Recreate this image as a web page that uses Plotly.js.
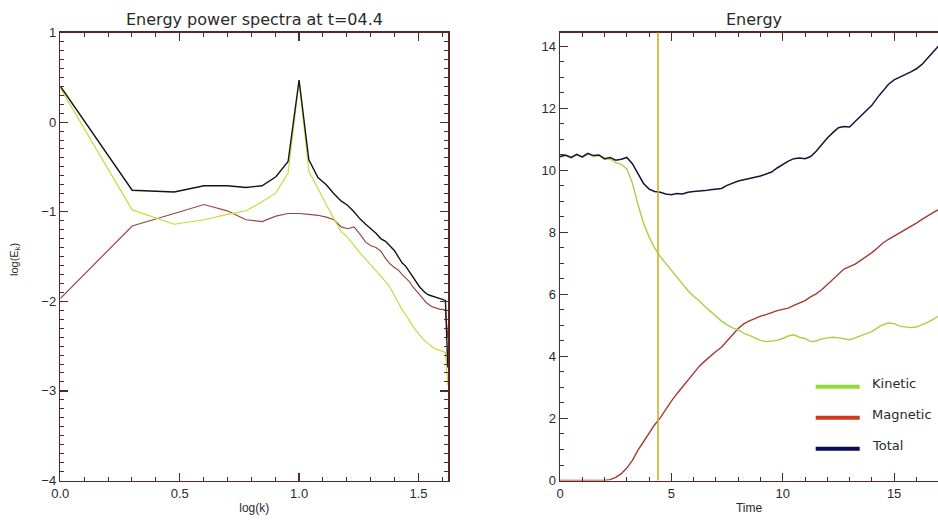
<!DOCTYPE html>
<html>
<head>
<meta charset="utf-8">
<script src="https://cdn.plot.ly/plotly-3.0.1.min.js"></script>
<style>html,body{margin:0;padding:0;background:#fff;}#chart{width:938px;height:522px;}</style>
</head>
<body>
<div id="chart"></div>
<script>
// ---------- Left panel: energy power spectra (log k vs log E_k) ----------
const logK = [0, 0.301, 0.477, 0.602, 0.699, 0.778, 0.845, 0.903, 0.954, 1.0,
  1.041, 1.079, 1.114, 1.146, 1.176, 1.204, 1.230, 1.255, 1.279, 1.301,
  1.322, 1.342, 1.362, 1.380, 1.398, 1.415, 1.431, 1.447, 1.462, 1.477,
  1.491, 1.505, 1.519, 1.531, 1.544, 1.556, 1.568, 1.580, 1.591, 1.602,
  1.613, 1.623];
const specTotal = [0.40, -0.76, -0.78, -0.71, -0.71, -0.73, -0.71, -0.61, -0.44, 0.47,
  -0.42, -0.62, -0.70, -0.80, -0.88, -0.93, -1.00, -1.08, -1.14, -1.19,
  -1.24, -1.30, -1.33, -1.38, -1.43, -1.50, -1.57, -1.61, -1.67, -1.74,
  -1.79, -1.84, -1.88, -1.91, -1.93, -1.94, -1.95, -1.96, -1.97, -1.98,
  -1.99, -2.74];
const specKinetic = [0.38, -0.98, -1.14, -1.09, -1.03, -0.99, -0.89, -0.79, -0.57, 0.45,
  -0.55, -0.75, -0.92, -1.08, -1.22, -1.29, -1.38, -1.46, -1.53, -1.60,
  -1.66, -1.72, -1.78, -1.84, -1.93, -2.02, -2.09, -2.15, -2.22, -2.28,
  -2.33, -2.38, -2.42, -2.45, -2.48, -2.51, -2.53, -2.54, -2.55, -2.56,
  -2.57, -2.94];
const specMagnetic = [-1.97, -1.16, -1.02, -0.92, -0.99, -1.09, -1.11, -1.05, -1.02, -1.02,
  -1.03, -1.04, -1.06, -1.09, -1.17, -1.19, -1.17, -1.25, -1.34, -1.38,
  -1.40, -1.44, -1.52, -1.58, -1.62, -1.65, -1.70, -1.74, -1.78, -1.84,
  -1.88, -1.92, -1.97, -2.01, -2.04, -2.06, -2.07, -2.08, -2.09, -2.09,
  -2.10, -2.40];

// ---------- Right panel: energy vs time ----------
const time = [0, 0.25, 0.5, 0.75, 1.0, 1.25, 1.5, 1.75, 2.0, 2.25, 2.5, 2.75,
  3.0, 3.25, 3.5, 3.75, 4.0, 4.25, 4.5, 4.75, 5.0, 5.25, 5.5, 5.75,
  6.0, 6.25, 6.5, 6.75, 7.0, 7.25, 7.5, 7.75, 8.0, 8.25, 8.5, 8.75,
  9.0, 9.25, 9.5, 9.75, 10.0, 10.25, 10.5, 10.75, 11.0, 11.25, 11.5, 11.75,
  12.0, 12.25, 12.5, 12.75, 13.0, 13.25, 13.5, 13.75, 14.0, 14.25, 14.5, 14.75,
  15.0, 15.25, 15.5, 15.75, 16.0, 16.25, 16.5, 16.75, 17.0];
const energyTotal = [10.45, 10.50, 10.42, 10.52, 10.44, 10.55, 10.48, 10.50, 10.38, 10.42, 10.33, 10.36,
  10.42, 10.22, 9.90, 9.58, 9.40, 9.32, 9.30, 9.24, 9.22, 9.26, 9.24, 9.30,
  9.32, 9.33, 9.35, 9.38, 9.40, 9.42, 9.52, 9.60, 9.66, 9.70, 9.75, 9.78,
  9.82, 9.88, 9.95, 10.08, 10.20, 10.30, 10.38, 10.40, 10.38, 10.45, 10.62, 10.85,
  11.05, 11.22, 11.38, 11.42, 11.40, 11.58, 11.75, 11.92, 12.10, 12.35, 12.58, 12.78,
  12.92, 13.00, 13.10, 13.18, 13.28, 13.42, 13.62, 13.82, 14.02];
const energyKinetic = [10.43, 10.48, 10.40, 10.50, 10.42, 10.53, 10.46, 10.48, 10.36, 10.38, 10.25, 10.20,
  10.05, 9.60, 8.90, 8.30, 7.85, 7.50, 7.22, 7.00, 6.78, 6.55, 6.33, 6.12,
  5.94, 5.80, 5.62, 5.45, 5.30, 5.14, 5.02, 4.92, 4.86, 4.75, 4.68, 4.60,
  4.52, 4.48, 4.50, 4.52, 4.58, 4.66, 4.70, 4.62, 4.58, 4.48, 4.50, 4.57,
  4.60, 4.62, 4.60, 4.57, 4.54, 4.60, 4.66, 4.72, 4.80, 4.92, 5.03, 5.08,
  5.06, 4.98, 4.96, 4.93, 4.95, 5.02, 5.10, 5.20, 5.30];
const energyMagnetic = [0, 0, 0, 0, 0, 0, 0, 0, 0, 0.03, 0.10, 0.22,
  0.40, 0.65, 0.98, 1.25, 1.52, 1.80, 2.02, 2.30, 2.56, 2.80, 3.02, 3.25,
  3.48, 3.68, 3.85, 4.02, 4.16, 4.30, 4.50, 4.72, 4.90, 5.05, 5.15, 5.22,
  5.30, 5.35, 5.42, 5.48, 5.52, 5.56, 5.65, 5.72, 5.80, 5.92, 6.02, 6.15,
  6.32, 6.48, 6.65, 6.82, 6.90, 6.98, 7.10, 7.22, 7.35, 7.50, 7.66, 7.78,
  7.88, 8.00, 8.10, 8.20, 8.30, 8.42, 8.54, 8.64, 8.74];
const snapshotTime = 4.4;
const legendLabels = ['Kinetic', 'Magnetic', 'Total'];

// ---------- styles ----------
const W = 938, H = 522;
const frameColor = '#5a2626';
const tickFont = {family: 'Liberation Sans, Arial, sans-serif', size: 13, color: '#2a2a2a'};
const legendColors = ['#95d83a', '#d23a1c', '#0a0a55'];

const traces = [
  {x: logK, y: specMagnetic, xaxis: 'x', yaxis: 'y', mode: 'lines', line: {color: '#9c4646', width: 1.2}, hoverinfo: 'skip'},
  {x: logK, y: specKinetic, xaxis: 'x', yaxis: 'y', mode: 'lines', line: {color: '#c4dc3c', width: 1.2}, hoverinfo: 'skip'},
  {x: logK, y: specTotal, xaxis: 'x', yaxis: 'y', mode: 'lines', line: {color: '#141414', width: 1.4}, hoverinfo: 'skip'},
  {x: time, y: energyMagnetic, xaxis: 'x2', yaxis: 'y2', mode: 'lines', line: {color: '#a43a32', width: 1.4}, hoverinfo: 'skip'},
  {x: time, y: energyKinetic, xaxis: 'x2', yaxis: 'y2', mode: 'lines', line: {color: '#a8d040', width: 1.4}, hoverinfo: 'skip'},
  {x: time, y: energyTotal, xaxis: 'x2', yaxis: 'y2', mode: 'lines', line: {color: '#141438', width: 1.5}, hoverinfo: 'skip'}
];

function axisBase() {
  return {
    showline: true, linecolor: frameColor, linewidth: 1.5,
    ticks: 'inside', ticklen: 8, tickwidth: 1.2, tickcolor: frameColor,
    showgrid: false, zeroline: false, tickfont: tickFont, fixedrange: true
  };
}
function minorTicks(step) {
  return {dtick: step, ticklen: 4, tickwidth: 1, ticks: 'inside', tickcolor: frameColor, showgrid: false};
}

const yDom = [(H - 480.5) / H, (H - 32.5) / H];
const axisTitleFont = {family: 'Liberation Sans, Arial, sans-serif', size: 12, color: '#2a2a2a'};
const layout = {
  width: W, height: H,
  margin: {l: 0, r: 0, t: 0, b: 0},
  paper_bgcolor: '#ffffff', plot_bgcolor: '#ffffff',
  showlegend: false,
  xaxis: Object.assign(axisBase(), {
    domain: [60.3 / W, 448.3 / W], range: [0, 1.625], tick0: 0, dtick: 0.5, tickformat: '.1f',
    mirror: 'ticks', anchor: 'y', minor: minorTicks(0.1),
    title: {text: 'log(k)', font: axisTitleFont, standoff: 4}
  }),
  yaxis: Object.assign(axisBase(), {
    domain: yDom, range: [-4, 1], tick0: 0, dtick: 1,
    mirror: 'ticks', anchor: 'x', minor: minorTicks(0.1)
  }),
  xaxis2: Object.assign(axisBase(), {
    domain: [560 / W, 1], range: [0, 16.97], tick0: 0, dtick: 5,
    mirror: 'ticks', anchor: 'y2', minor: minorTicks(1),
    title: {text: 'Time', font: axisTitleFont, standoff: 4}
  }),
  yaxis2: Object.assign(axisBase(), {
    domain: yDom, range: [0, 14.45], tick0: 0, dtick: 2,
    mirror: false, anchor: 'x2', minor: minorTicks(0.5)
  }),
  shapes: [
    {type: 'line', xref: 'x2', yref: 'paper', x0: snapshotTime, x1: snapshotTime, y0: yDom[0], y1: yDom[1],
     line: {color: '#c8b42a', width: 1.6}}
  ],
  annotations: [
    {text: 'Energy power spectra at t=04.4', xref: 'paper', yref: 'paper', x: 254 / W, y: 1 - 20 / H,
     showarrow: false, xanchor: 'center', yanchor: 'middle',
     font: {family: 'DejaVu Sans, sans-serif', size: 16, color: '#2a2a2a'}},
    {text: 'Energy', xref: 'paper', yref: 'paper', x: 754 / W, y: 1 - 20 / H,
     showarrow: false, xanchor: 'center', yanchor: 'middle',
     font: {family: 'DejaVu Sans, sans-serif', size: 16, color: '#2a2a2a'}},
    {text: 'log(E<sub>k</sub>)', xref: 'paper', yref: 'paper', x: 15 / W, y: 1 - 260 / H,
     showarrow: false, textangle: -90, xanchor: 'center', yanchor: 'middle',
     font: {family: 'Liberation Sans, Arial, sans-serif', size: 11, color: '#2a2a2a'}}
  ]
};

// manual legend (lines + labels) in the right panel
legendLabels.forEach(function (lab, i) {
  const py = 386.7 + i * 31;
  layout.shapes.push({type: 'line', xref: 'paper', yref: 'paper',
    x0: 815.7 / W, x1: 859.7 / W, y0: 1 - py / H, y1: 1 - py / H,
    line: {color: legendColors[i], width: 4}});
  layout.annotations.push({text: lab, xref: 'paper', yref: 'paper', x: 870 / W, y: 1 - (py - 3) / H,
    showarrow: false, xanchor: 'left', yanchor: 'middle',
    font: {family: 'DejaVu Sans, sans-serif', size: 13, color: '#2a2a2a'}});
});

Plotly.newPlot('chart', traces, layout, {staticPlot: true, displayModeBar: false});
</script>
</body>
</html>
